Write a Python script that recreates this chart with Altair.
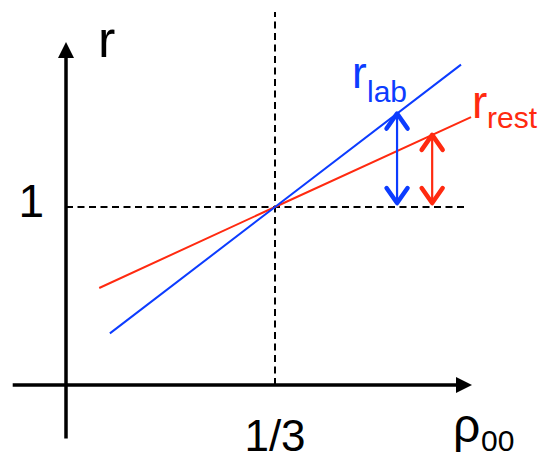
import altair as alt
import pandas as pd

# Where the lab-frame and rest-frame ratios coincide
rho_cross = 1 / 3
r_cross = 1.0

# r as a function of rho_00, lab frame and rest frame
rho_lab = [0.07, rho_cross, 0.63]
r_lab = [0.29, r_cross, 1.80]
rho_rest = [0.053, rho_cross, 0.646]
r_rest = [0.545, r_cross, 1.505]

# Double-headed arrows showing the deviation from r = 1
arrow_rho = [0.528, 0.584]
arrow_low = [1.022, 1.022]
arrow_high = [1.525, 1.405]

# Extents of the hand-drawn axes and guide lines
x_axis = [-0.085, 0.64]
x_tip = 0.6475
y_axis = [-0.30, 1.90]
y_tip = 1.927
guide_top = 2.096
guide_right = 0.6396

BLUE = "#0c3cff"
RED = "#ff2a10"
FONT = "Liberation Sans"

xs = alt.Scale(domain=[-66 / 627, 480 / 627], nice=False, zero=False)
ys = alt.Scale(domain=[-74 / 178, 385 / 178], nice=False, zero=False)


def X(field="rho"):
    return alt.X(f"{field}:Q", scale=xs, axis=None)


def Y(field="r"):
    return alt.Y(f"{field}:Q", scale=ys, axis=None)


def df(**cols):
    return pd.DataFrame(cols)


# dashed guides at rho_00 = 1/3 and r = 1
v_guide = alt.Chart(df(rho=[rho_cross], r=[0.0], r2=[guide_top])).mark_rule(
    color="black", strokeWidth=2, strokeDash=[7, 4.5]
).encode(x=X(), y=Y(), y2="r2:Q")

h_guide = alt.Chart(df(rho=[0.0], rho2=[guide_right], r=[r_cross])).mark_rule(
    color="black", strokeWidth=2, strokeDash=[7, 4.5]
).encode(x=X(), x2="rho2:Q", y=Y())

# axes with filled arrowheads
x_line = alt.Chart(df(rho=[x_axis[0]], rho2=[x_axis[1]], r=[0.0])).mark_rule(
    color="black", strokeWidth=3.5
).encode(x=X(), x2="rho2:Q", y=Y())

y_line = alt.Chart(df(rho=[0.0], r=[y_axis[0]], r2=[y_axis[1]])).mark_rule(
    color="black", strokeWidth=3.5
).encode(x=X(), y=Y(), y2="r2:Q")

x_head = alt.Chart(df(rho=[x_tip], r=[0.0])).mark_point(
    shape="M0,0 L-1,0.5 L-1,-0.5 Z", size=1024, filled=True, color="black", opacity=1
).encode(x=X(), y=Y())

y_head = alt.Chart(df(rho=[0.0], r=[y_tip])).mark_point(
    shape="M0,0 L0.5,1 L-0.5,1 Z", size=1024, filled=True, color="black", opacity=1
).encode(x=X(), y=Y())

# the two curves
rest_line = alt.Chart(df(rho=rho_rest, r=r_rest)).mark_line(
    color=RED, strokeWidth=2
).encode(x=X(), y=Y())

lab_line = alt.Chart(df(rho=rho_lab, r=r_lab)).mark_line(
    color=BLUE, strokeWidth=2
).encode(x=X(), y=Y())


def double_arrow(i, color):
    d = df(rho=[arrow_rho[i]], r=[arrow_low[i]], r2=[arrow_high[i]])
    shaft = alt.Chart(d).mark_rule(color=color, strokeWidth=2.2).encode(
        x=X(), y=Y(), y2="r2:Q"
    )
    top = alt.Chart(d).mark_point(
        shape="M-0.7,1 L0,0 L0.7,1", size=900, filled=False, color=color,
        strokeWidth=4.5, strokeCap="round", strokeJoin="round", opacity=1
    ).encode(x=X(), y=Y("r2"))
    bottom = alt.Chart(d).mark_point(
        shape="M-0.7,-1 L0,0 L0.7,-1", size=900, filled=False, color=color,
        strokeWidth=4.5, strokeCap="round", strokeJoin="round", opacity=1
    ).encode(x=X(), y=Y())
    return shaft + top + bottom


lab_arrow = double_arrow(0, BLUE)
rest_arrow = double_arrow(1, RED)


def label(rho, r, text, size, dx, dy, color="black", align="left"):
    return alt.Chart(df(rho=[rho], r=[r], t=[text])).mark_text(
        font=FONT, fontSize=size, color=color, align=align,
        baseline="alphabetic", dx=dx, dy=dy
    ).encode(x=X(), y=Y(), text="t:N")


texts = [
    label(0.0, y_tip, "r", 52, 32, 15),
    label(0.0, r_cross, "1", 46, -22, 10, align="right"),
    label(rho_cross, 0.0, "1/3", 44, 0, 66, align="center"),
    label(x_tip, 0.0, "ρ", 48, -19, 57),
    label(x_tip, 0.0, "00", 30, 9, 66),
    label(rho_lab[-1], r_lab[-1], "r", 44, -109, 23, color=BLUE),
    label(rho_lab[-1], r_lab[-1], "lab", 30, -94, 37, color=BLUE),
    label(rho_rest[-1], r_rest[-1], "r", 46, 1, 1, color=RED),
    label(rho_rest[-1], r_rest[-1], "rest", 30, 16, 11, color=RED),
]

chart = alt.layer(
    v_guide, h_guide, x_line, y_line, x_head, y_head,
    rest_line, lab_line, lab_arrow, rest_arrow, *texts
).properties(
    width=546, height=459, padding=0,
    autosize=alt.AutoSizeParams(type="none"),
    background="white",
).configure_view(stroke=None)

chart.save("out.html", embed_options={"renderer": "svg", "actions": False})
